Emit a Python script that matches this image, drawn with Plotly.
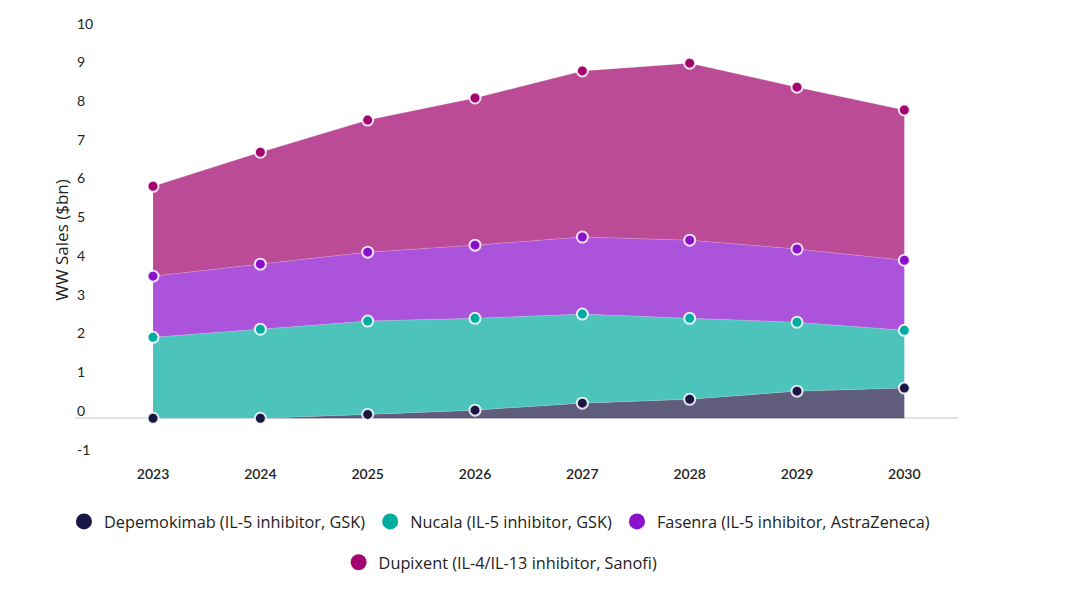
import plotly.graph_objects as go

years = ["2023", "2024", "2025", "2026", "2027", "2028", "2029", "2030"]
depemokimab = [0.0, 0.0, 0.1, 0.21, 0.39, 0.49, 0.70, 0.78]
nucala = [2.09, 2.30, 2.41, 2.37, 2.30, 2.09, 1.78, 1.49]
fasenra = [1.58, 1.68, 1.78, 1.89, 1.99, 2.02, 1.89, 1.81]
dupixent = [2.32, 2.89, 3.41, 3.80, 4.29, 4.57, 4.18, 3.88]
y_ticks = [-1, 0, 1, 2, 3, 4, 5, 6, 7, 8, 9, 10]

series = [
    ("Depemokimab (IL-5 inhibitor, GSK)", depemokimab, "#1b1745", "rgba(27,23,69,0.7)", "legend"),
    ("Nucala (IL-5 inhibitor, GSK)", nucala, "#00ab9f", "rgba(0,171,159,0.7)", "legend"),
    ("Fasenra (IL-5 inhibitor, AstraZeneca)", fasenra, "#8b10cc", "rgba(139,16,204,0.72)", "legend"),
    ("Dupixent (IL-4/IL-13 inhibitor, Sanofi)", dupixent, "#a2056f", "rgba(162,5,111,0.72)", "legend2"),
]

FONT = "Lato"
LEGFONT = "Open Sans"
fig = go.Figure()
for name, vals, mcol, fcol, lg in series:
    fig.add_trace(go.Scatter(
        x=years, y=vals, name=name, stackgroup="one", mode="lines+markers",
        fillcolor=fcol, line=dict(width=0.6, color="rgba(255,255,255,0.35)"),
        marker=dict(size=11, color=mcol, line=dict(color="rgba(255,255,255,0.85)", width=2)),
        showlegend=False,
    ))
for name, vals, mcol, fcol, lg in series:
    fig.add_trace(go.Scatter(
        x=[None], y=[None], name=name, mode="markers",
        marker=dict(size=18, color=mcol), legend=lg, showlegend=True,
    ))

annotations = [dict(text="WW Sales ($bn)", textangle=-90, xref="paper", yref="paper",
                    x=-0.0147, y=0.51, xanchor="center", yanchor="middle", showarrow=False,
                    font=dict(family=LEGFONT, size=17, color="#222222"))]
for t in y_ticks:
    annotations.append(dict(text=str(t), xref="paper", yref="y", x=0.0, y=t,
                            xanchor="left", yanchor="middle", yshift=8, showarrow=False,
                            font=dict(family=FONT, size=14, color="#222222")))

fig.update_layout(
    width=1080, height=614,
    margin=dict(l=75, r=122, t=31, b=157, autoexpand=False),
    plot_bgcolor="white", paper_bgcolor="white",
    font=dict(family=FONT, size=14, color="#222222"),
    xaxis=dict(type="category", range=[-0.727, 7.5], showgrid=False, showline=False,
               zeroline=False, ticks="", tickfont=dict(size=14, color="#222222", weight=600),
               ticklabelstandoff=7),
    yaxis=dict(range=[-1, 10], tickvals=y_ticks, showgrid=False, showline=False,
               zeroline=True, zerolinecolor="#e3e3e3", zerolinewidth=2,
               showticklabels=False, ticks=""),
    legend=dict(orientation="h", x=-0.0125, xanchor="left",
                y=-0.111, yanchor="top",
                traceorder="normal", font=dict(family=LEGFONT, size=16.3, color="#222222"),
                itemclick=False),
    legend2=dict(orientation="h", x=0.482, xanchor="center",
                 y=-0.207, yanchor="top",
                 font=dict(family=LEGFONT, size=16.3, color="#222222"), itemclick=False),
    annotations=annotations,
    showlegend=True,
)

fig.write_html("out.html")
